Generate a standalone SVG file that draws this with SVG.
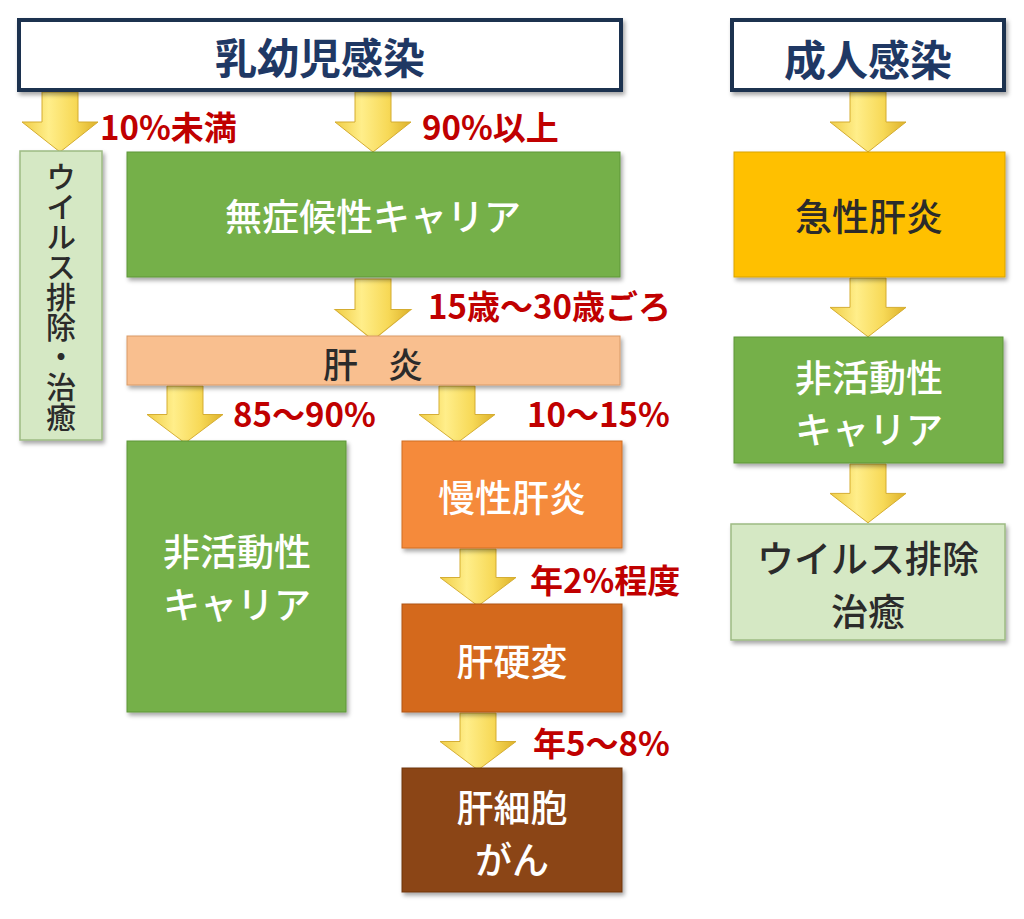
<svg xmlns="http://www.w3.org/2000/svg" xmlns:xlink="http://www.w3.org/1999/xlink" width="1024" height="919" viewBox="0 0 1024 919">
<style>
text{font-family:"Noto Sans CJK JP","Noto Sans",sans-serif;text-anchor:middle;dominant-baseline:central}
.title{font-size:42px;font-weight:700;fill:#1F3864}
.node{font-size:37px;font-weight:500}
.w{fill:#FFFFFF}
.d{fill:#2B2B2B}
.lbl{font-size:33px;font-weight:700;fill:#C00000;text-anchor:start}
.box{filter:url(#sh)}
</style>
<defs>
<filter id="sh" x="-10%" y="-10%" width="130%" height="130%">
<feDropShadow dx="2" dy="3" stdDeviation="2" flood-color="#000" flood-opacity="0.35"/>
</filter>
<linearGradient id="ag" x1="0" y1="0" x2="1" y2="0">
<stop offset="0" stop-color="#F0CD45"/>
<stop offset="0.35" stop-color="#FFEE8A"/>
<stop offset="0.7" stop-color="#F7D957"/>
<stop offset="1" stop-color="#DDB12A"/>
</linearGradient>
<path id="arr" d="M-18,0 H18 V30 H38 L0,60 L-38,30 H-18 Z" fill="url(#ag)" stroke="#D4AC30" stroke-width="1"/>
</defs>

<g id="connectors">
<use xlink:href="#arr" transform="translate(60,92)"/>
<use xlink:href="#arr" transform="translate(373,92)"/>
<use xlink:href="#arr" transform="translate(373,279) scale(1,1.02)"/>
<use xlink:href="#arr" transform="translate(185,386) scale(1,0.95)"/>
<use xlink:href="#arr" transform="translate(457,386) scale(1,0.95)"/>
<use xlink:href="#arr" transform="translate(478,549) scale(1,0.95)"/>
<use xlink:href="#arr" transform="translate(478,713) scale(1,0.95)"/>
<use xlink:href="#arr" transform="translate(868,92) scale(1,1.0)"/>
<use xlink:href="#arr" transform="translate(868,278) scale(1,0.98)"/>
<use xlink:href="#arr" transform="translate(868,464) scale(1,0.98)"/>
<text class="lbl" x="100" y="126">10%未満</text>
<text class="lbl" x="422" y="126">90%以上</text>
<text class="lbl" x="428" y="305">15歳～30歳ごろ</text>
<text class="lbl" x="233" y="413">85～90%</text>
<text class="lbl" x="527" y="413">10～15%</text>
<text class="lbl" x="530" y="579">年2%程度</text>
<text class="lbl" x="533" y="742">年5～8%</text>
</g>

<g id="infant">
<rect x="19" y="20" width="602" height="70" fill="#FFFFFF" stroke="#1F3050" stroke-width="4" class="box"/>
<text class="title" x="320" y="55">乳幼児感染</text>
</g>

<g id="adult">
<rect x="732" y="20" width="272" height="70" fill="#FFFFFF" stroke="#1F3050" stroke-width="4" class="box"/>
<text class="title" x="868" y="57">成人感染</text>
</g>

<g id="clear-left">
<rect x="20" y="151" width="82" height="289" fill="#D5E8C4" stroke="#9DBB83" stroke-width="1.5" class="box"/>
<text x="61" y="297" fill="#2B2B2B" writing-mode="vertical-rl" style="text-anchor:middle;dominant-baseline:central;font-size:30px;font-weight:500">ウイルス排除・治癒</text>
</g>

<g id="asymptomatic">
<rect x="127" y="152" width="493" height="125" fill="#74B049" stroke="#5E9638" stroke-width="1" class="box"/>
<text class="node w" x="373" y="215">無症候性キャリア</text>
</g>

<g id="hepatitis">
<rect x="127" y="336" width="493" height="49" fill="#F9BF8F" stroke="#D99A66" stroke-width="1" class="box"/>
<text class="node d" x="373" y="362" style="font-size:35px;word-spacing:22px">肝 炎</text>
</g>

<g id="inactive-left">
<rect x="127" y="441" width="219" height="271" fill="#74B049" stroke="#5E9638" stroke-width="1" class="box"/>
<text class="node w" x="237" y="550">非活動性</text>
<text class="node w" x="237" y="603">キャリア</text>
</g>

<g id="chronic">
<rect x="402" y="441" width="220" height="107" fill="#F58A3B" stroke="#D06C22" stroke-width="1" class="box"/>
<text class="node w" x="512" y="496">慢性肝炎</text>
</g>

<g id="cirrhosis">
<rect x="402" y="604" width="220" height="108" fill="#D4691C" stroke="#B05414" stroke-width="1" class="box"/>
<text class="node w" x="512" y="660">肝硬変</text>
</g>

<g id="hcc">
<rect x="402" y="768" width="220" height="124" fill="#8B4513" stroke="#6E360E" stroke-width="1" class="box"/>
<text class="node w" x="512" y="806">肝細胞</text>
<text class="node w" x="512" y="858">がん</text>
</g>

<g id="acute">
<rect x="734" y="152" width="271" height="125" fill="#FFC000" stroke="#D9A300" stroke-width="1" class="box"/>
<text class="node d" x="869" y="215">急性肝炎</text>
</g>

<g id="inactive-right">
<rect x="734" y="337" width="269" height="126" fill="#74B049" stroke="#5E9638" stroke-width="1" class="box"/>
<text class="node w" x="869" y="376">非活動性</text>
<text class="node w" x="869" y="428">キャリア</text>
</g>

<g id="clear-right">
<rect x="731" y="524" width="274" height="116" fill="#D5E8C4" stroke="#9DBB83" stroke-width="1.5" class="box"/>
<text class="node d" x="868" y="557">ウイルス排除</text>
<text class="node d" x="868" y="610">治癒</text>
</g>
</svg>
